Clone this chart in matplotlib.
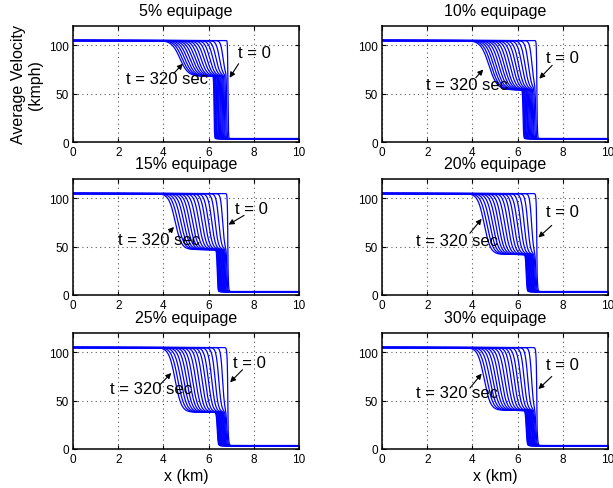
import numpy as np
import matplotlib
matplotlib.use("Agg")
import matplotlib.pyplot as plt

# Panel titles and the intermediate (queue-discharge) speed level
TITLES = ["5% equipage", "10% equipage", "15% equipage",
          "20% equipage", "25% equipage", "30% equipage"]
PLATEAU = [68, 54, 47, 42, 38, 40]          # kmph
V_FREE = 105                                 # upstream speed, kmph
V_JAM = 3.5                                  # speed inside the jam, kmph

# Snapshots t = 0, 20, ..., 320 s
T_SNAP = [0, 20, 40, 60, 80, 100, 120, 140, 160, 180, 200, 220, 240, 260, 280, 300, 320]

# Upper front (free flow -> plateau) centre, km, per snapshot
UPPER_5 = [6.85, 6.64, 6.48, 6.33, 6.19, 6.05, 5.92, 5.79, 5.66, 5.53, 5.41, 5.29, 5.17, 5.05, 4.94, 4.83, 4.73]
UPPER_30 = [6.85, 6.62, 6.45, 6.29, 6.14, 5.99, 5.85, 5.71, 5.57, 5.43, 5.29, 5.16, 5.03, 4.90, 4.77, 4.64, 4.52]
# Upper front spread, km, per snapshot
WIDTH_5 = [0.01, 0.11, 0.15, 0.18, 0.20, 0.22, 0.24, 0.26, 0.27, 0.28, 0.30, 0.31, 0.32, 0.33, 0.34, 0.35, 0.36]
WIDTH_30 = [0.01, 0.09, 0.12, 0.14, 0.16, 0.18, 0.19, 0.20, 0.21, 0.22, 0.23, 0.24, 0.25, 0.26, 0.27, 0.28, 0.28]
# Lower front (plateau -> jam) position, km, per snapshot
LOWER_5 = [6.86, 6.80, 6.75, 6.70, 6.66, 6.62, 6.58, 6.54, 6.50, 6.46, 6.43, 6.40, 6.36, 6.33, 6.30, 6.27, 6.24]
LOWER_30 = [6.86, 6.81, 6.77, 6.73, 6.70, 6.67, 6.64, 6.61, 6.58, 6.55, 6.52, 6.50, 6.47, 6.45, 6.42, 6.40, 6.38]

UPPER = [UPPER_5, UPPER_5, UPPER_30, UPPER_30, UPPER_30, UPPER_30]
WIDTH = [WIDTH_5, WIDTH_5, WIDTH_30, WIDTH_30, WIDTH_30, WIDTH_30]
LOWER = [LOWER_5, LOWER_5, LOWER_30, LOWER_30, LOWER_30, LOWER_30]
DROP_W = [0.02, 0.025, 0.03, 0.035, 0.04, 0.04]

# Annotation anchors (data coords): text centre, arrow tail, arrow head
T320_TEXT = [(4.15, 66), (3.77, 60), (3.79, 57), (3.30, 56.5), (3.47, 62.4), (3.30, 58)]
T320_HEAD = [(4.86, 81), (4.48, 75), (4.47, 70.4), (4.41, 78.8), (4.35, 78.6), (4.41, 78)]
T320_TAIL = [(4.46, 71), (4.15, 66.5), (4.25, 65), (3.89, 63.9), (3.85, 66.6), (3.89, 63)]
T0_TEXT = [(8.04, 93), (8.00, 87), (7.88, 89), (8.00, 86), (7.80, 89.6), (8.00, 87)]
T0_HEAD = [(6.93, 66.5), (6.96, 65.5), (6.88, 72.8), (6.92, 59.5), (6.95, 69), (6.92, 62)]
T0_TAIL = [(7.33, 81), (7.53, 79.3), (7.57, 82.4), (7.51, 72), (7.50, 82), (7.51, 75)]

plt.rcParams['font.family'] = ['Liberation Sans', 'DejaVu Sans']

fig = plt.figure(figsize=(6.13, 4.89), dpi=100)
lefts = [73 / 613, 382 / 613]
bottoms = [1 - 143 / 489, 1 - 296 / 489, 1 - 450 / 489]
w, h = 226 / 613, 116 / 489

x = np.linspace(0, 10, 2001)

for i in range(6):
    r, c = divmod(i, 2)
    ax = fig.add_axes([lefts[c], bottoms[r], w, h])
    p = PLATEAU[i]
    for k in range(len(T_SNAP)):
        up = p + (V_FREE - p) * 0.5 * (1 - np.tanh((x - UPPER[i][k]) / WIDTH[i][k]))
        v = V_JAM + (up - V_JAM) * 0.5 * (1 - np.tanh((x - LOWER[i][k]) / DROP_W[i]))
        ax.plot(x, v, color='blue', lw=0.9)

    ax.set_xlim(0, 10)
    ax.set_ylim(0, 120)
    ax.set_xticks([0, 2, 4, 6, 8, 10])
    ax.set_yticks([0, 50, 100])
    ax.grid(True, linestyle=(0, (1, 3)), color='0.35', linewidth=0.8)
    ax.tick_params(direction='in', top=True, right=True, length=3,
                   labelsize=8.5, pad=3)
    for s in ax.spines.values():
        s.set_linewidth(1.1)
    ax.set_title(TITLES[i], fontsize=11.5, pad=8)

    ax.annotate('', xy=T320_HEAD[i], xytext=T320_TAIL[i],
                arrowprops=dict(arrowstyle='-|>', color='black', lw=0.8,
                                mutation_scale=8, shrinkA=0, shrinkB=0))
    ax.text(*T320_TEXT[i], 't = 320 sec', fontsize=12, ha='center', va='center')
    ax.annotate('', xy=T0_HEAD[i], xytext=T0_TAIL[i],
                arrowprops=dict(arrowstyle='-|>', color='black', lw=0.8,
                                mutation_scale=8, shrinkA=0, shrinkB=0))
    ax.text(*T0_TEXT[i], 't = 0', fontsize=12, ha='center', va='center')

    if i == 0:
        ax.set_ylabel('Average Velocity\n(kmph)', fontsize=11.5, labelpad=4)
    if r == 2:
        ax.set_xlabel('x (km)', fontsize=11.5, labelpad=2)

fig.savefig('out.png', dpi=100)
